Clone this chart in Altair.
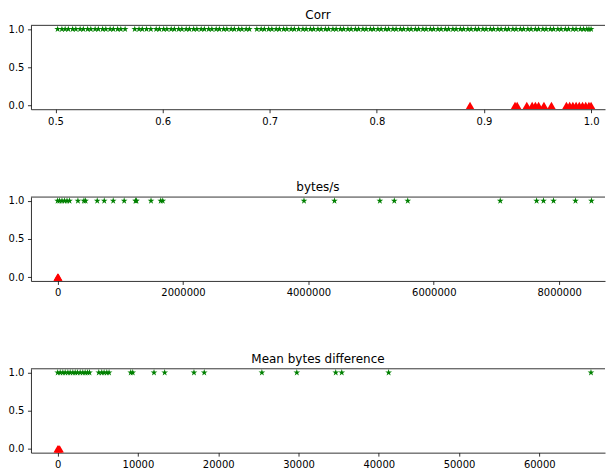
import altair as alt
import pandas as pd

# ---- data ----
corr_pos = [0.502, 0.506, 0.509, 0.512, 0.516, 0.519, 0.523, 0.526, 0.530, 0.533, 0.537, 0.540,
            0.544, 0.547, 0.551, 0.554, 0.558, 0.561, 0.565, 0.574, 0.578, 0.581, 0.585, 0.589,
            0.594, 0.597, 0.601, 0.604, 0.608, 0.611, 0.615, 0.618, 0.622, 0.625, 0.629, 0.632,
            0.636, 0.639, 0.643, 0.646, 0.650, 0.653, 0.657, 0.660, 0.664, 0.667, 0.671, 0.674,
            0.678, 0.681, 0.688, 0.692, 0.695, 0.699, 0.702, 0.706, 0.709, 0.713, 0.716, 0.720,
            0.723, 0.727, 0.731, 0.734, 0.738, 0.741, 0.745, 0.748, 0.752, 0.755, 0.759, 0.762,
            0.766, 0.769, 0.773, 0.776, 0.780, 0.783, 0.787, 0.790, 0.794, 0.797, 0.801, 0.804,
            0.808, 0.811, 0.815, 0.818, 0.822, 0.825, 0.829, 0.832, 0.836, 0.839, 0.843, 0.846,
            0.850, 0.853, 0.857, 0.860, 0.864, 0.867, 0.871, 0.874, 0.878, 0.881, 0.885, 0.888,
            0.892, 0.895, 0.899, 0.902, 0.906, 0.909, 0.913, 0.916, 0.920, 0.923, 0.927, 0.930,
            0.934, 0.937, 0.941, 0.944, 0.948, 0.951, 0.955, 0.958, 0.962, 0.965, 0.969, 0.972,
            0.976, 0.979, 0.983, 0.986, 0.990, 0.993, 0.996, 0.998, 1.000]
corr_neg = [0.887, 0.929, 0.931, 0.940, 0.945, 0.948, 0.951, 0.956, 0.963, 0.977, 0.980,
            0.983, 0.986, 0.989, 0.992, 0.995, 0.998, 1.000]

bps_pos = [0, 30000, 70000, 110000, 150000, 190000, 324000, 420000, 446000, 632000, 744000,
           887000, 1062000, 1242000, 1258000, 1490000, 1645000, 1677000, 3930000, 4416000,
           5140000, 5370000, 5585000, 7060000, 7640000, 7750000, 7910000, 8260000, 8515000]
bps_neg = [0, 5000, 12000]

mbd_pos = [0, 311, 645, 933, 1270, 1555, 1890, 2180, 2460, 2800, 3130, 3420, 3710, 3960,
           5120, 5490, 5780, 6120, 6400, 9100, 9350, 12000, 13330, 16980, 18260, 25440,
           29790, 34640, 35390, 41230, 66440]
mbd_neg = [0, 100, 250]

titles = ["Corr", "bytes/s", "Mean bytes difference"]
domains = [[0.4771, 1.0130], [-425000, 8731000], [-3330, 68187]]
ticks = [[0.5, 0.6, 0.7, 0.8, 0.9, 1.0],
         [0, 2000000, 4000000, 6000000, 8000000],
         [0, 10000, 20000, 30000, 40000, 50000, 60000]]
formats = [".1f", "d", "d"]

STAR = ("M0,-1L0.2245,-0.309L0.951,-0.309L0.363,0.118L0.588,0.809L0,0.382"
        "L-0.588,0.809L-0.363,0.118L-0.951,-0.309L-0.2245,-0.309Z")

W, H = 575, 84


def panel(pos, neg, title, dom, tk, fmt):
    df = pd.DataFrame({"x": list(pos) + list(neg),
                       "y": [1] * len(pos) + [0] * len(neg)})
    xenc = alt.X("x:Q", scale=alt.Scale(domain=dom, nice=False, zero=False),
                 axis=alt.Axis(values=tk, format=fmt, title=None))
    yenc = alt.Y("y:Q", scale=alt.Scale(domain=[-0.05, 1.05], nice=False),
                 axis=alt.Axis(values=[0, 0.5, 1.0], format=".1f", title=None))
    base = alt.Chart(df)
    top = alt.Chart(pd.DataFrame({"k": [0]})).mark_rule(
        color="#000000", strokeWidth=0.8).encode(
        x=alt.value(0), x2=alt.value(W), y=alt.value(0))
    stars = base.transform_filter("datum.y == 1").mark_point(
        shape=STAR, filled=True, color="#008000", size=50, opacity=1
    ).encode(x=xenc, y=yenc)
    tris = base.transform_filter("datum.y == 0").mark_point(
        shape="triangle-up", filled=True, color="#ff0000", size=70, opacity=1
    ).encode(x=xenc, y=yenc)
    return alt.layer(stars, tris, top).properties(
        width=W, height=H,
        title=alt.TitleParams(title, fontSize=12, font="DejaVu Sans",
                              fontWeight="normal", anchor="middle", offset=2,
                              color="#000000"),
    )


panels = [panel(corr_pos, corr_neg, titles[0], domains[0], ticks[0], formats[0]),
          panel(bps_pos, bps_neg, titles[1], domains[1], ticks[1], formats[1]),
          panel(mbd_pos, mbd_neg, titles[2], domains[2], ticks[2], formats[2])]

chart = alt.vconcat(*panels, spacing=54).properties(
    padding={"left": 0, "top": 0, "right": 0, "bottom": 0}
).configure_view(
    stroke=None
).configure_axis(
    grid=False, domainColor="#000000", domainWidth=0.8, tickColor="#000000",
    tickWidth=0.8, tickSize=3.5, labelPadding=3.5, labelFont="DejaVu Sans",
    labelFontSize=10, labelColor="#000000", domain=True
)

chart.save("out.html", embed_options={"renderer": "svg", "actions": False})
